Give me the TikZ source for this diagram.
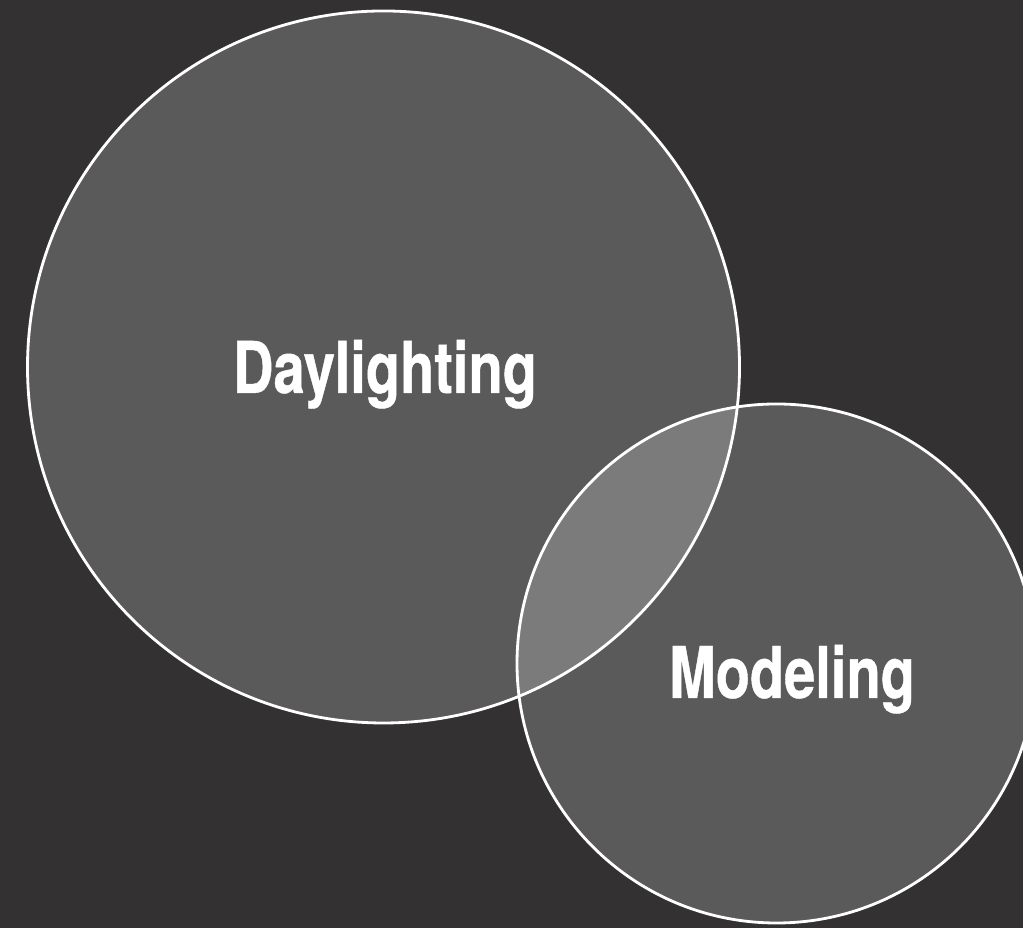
\documentclass[tikz,border=0pt]{standalone}
\usepackage{fontspec}
\newfontfamily\vennfont[FakeStretch=0.785, FakeBold=0.6]{TeX Gyre Heros}
\usetikzlibrary{shapes.geometric, positioning}
\definecolor{bgdark}{HTML}{333132}

\begin{document}
\begin{tikzpicture}[venn/.style={circle, draw=white, line width=0.8pt, fill=white, fill opacity=0.2, text opacity=1, inner sep=0pt, outer sep=0pt}, label/.style={text=white, anchor=base, inner sep=0pt, font=\vennfont\bfseries\fontsize{20.3}{24}\selectfont}]
\useasboundingbox (0,0) rectangle (10.23,9.28);
\fill[bgdark] (0,0) rectangle (10.23,9.28);
\clip (0,0) rectangle (10.23,9.28);
  \node[venn, minimum size=7.12cm] (daylight) at (3.835,5.61) {};
  \node[venn, minimum size=5.19cm] (modeling) at (7.765,2.645) {};
\node[label] (daytext) at (3.85,5.35) {Daylighting};
\node[label] (modtext) at (7.92,2.30) {Modeling};
\end{tikzpicture}
\end{document}
